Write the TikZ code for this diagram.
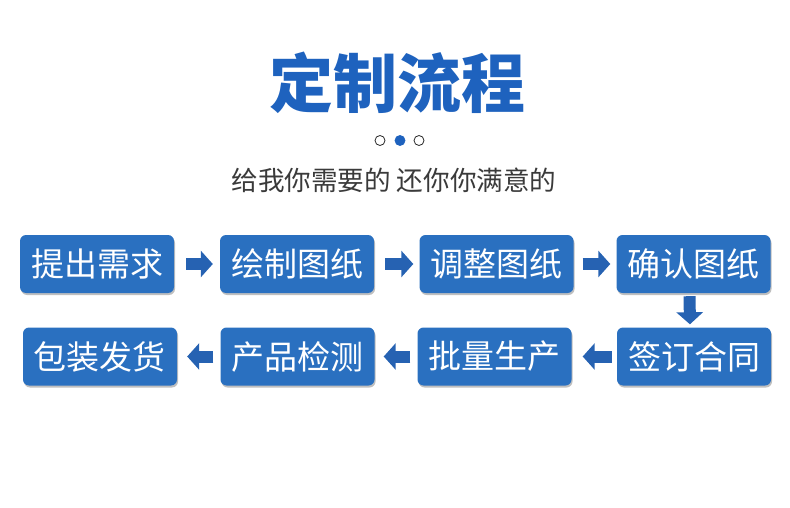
\documentclass[tikz,border=0pt]{standalone}
\usepackage{fontspec}
\newfontfamily\cjk{Noto Sans CJK SC}
\usetikzlibrary{arrows.meta,shadows,positioning,calc}

\definecolor{stepblue}{RGB}{42,112,192}
\definecolor{arrowblue}{RGB}{38,98,178}
\definecolor{titleblue}{RGB}{30,98,190}
\definecolor{subgray}{RGB}{58,58,58}

\tikzset{
  stepbox/.style={rectangle, rounded corners=6pt, fill=stepblue, text=white,
    minimum width=154pt, minimum height=58pt, inner sep=0pt,
    font=\cjk\fontsize{33}{33}\selectfont,
    drop shadow={shadow xshift=1pt, shadow yshift=-2pt, opacity=0.25, fill=black}},
  flow/.style={draw=arrowblue, line width=12pt, -{Triangle[width=26pt,length=12pt]}},
  dot/.style={circle, draw=black!85, line width=0.8pt, minimum size=10pt, inner sep=0pt}
}

\begin{document}
\begin{tikzpicture}[x=1pt,y=1pt]
\useasboundingbox (0,0) rectangle (790,507);

\node [font=\cjk\bfseries\fontsize{64}{64}\selectfont, text=titleblue] (title) at (397,424) {定制流程};

\node [dot] (d1) at (380,366.5) {};
\node [dot, fill=titleblue, draw=titleblue] (d2) at (400,366.5) {};
\node [dot] (d3) at (419,366.5) {};

\node [font=\cjk\fontsize{26.6}{26.6}\selectfont, text=subgray] (sub) at (394,327) {给我你需要的 还你你满意的};

% first row
\node [stepbox] (s1) at (97,243) {提出需求};
\node [stepbox] (s2) at (297,243) {绘制图纸};
\node [stepbox] (s3) at (496.5,243) {调整图纸};
\node [stepbox] (s4) at (693.5,243) {确认图纸};

% second row
\node [stepbox] (s5) at (694,150.5) {签订合同};
\node [stepbox] (s6) at (494.5,150.5) {批量生产};
\node [stepbox] (s7) at (297.5,150.5) {产品检测};
\node [stepbox] (s8) at (100,150.5) {包装发货};

\draw [flow, shorten <=12pt, shorten >=7pt] (s1) -- (s2);
\draw [flow, shorten <=11pt, shorten >=6pt] (s2) -- (s3);
\draw [flow, shorten <=9pt, shorten >=6pt] (s3) -- (s4);
\draw [flow, shorten <=3pt, shorten >=3pt] ([xshift=-4pt]s4.south) -- ([xshift=-4pt]s5.north);
\draw [flow, shorten <=5pt, shorten >=11pt] (s5) -- (s6);
\draw [flow, shorten <=7pt, shorten >=9pt] (s6) -- (s7);
\draw [flow, shorten <=7pt, shorten >=10pt] (s7) -- (s8);

\end{tikzpicture}
\end{document}
